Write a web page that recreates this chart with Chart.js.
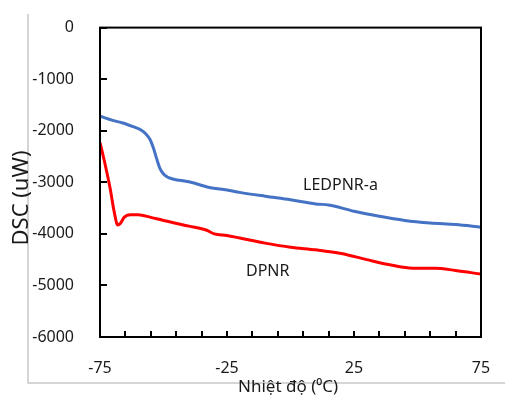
<!DOCTYPE html>
<html>
<head>
<meta charset="utf-8">
<script src="https://cdn.jsdelivr.net/npm/chart.js@4"></script>
<style>
  html, body { margin: 0; padding: 0; background: #fff; }
  #wrap { width: 505px; height: 398px; }
</style>
</head>
<body>
<div id="wrap"><canvas id="dsc" width="505" height="398"></canvas></div>
<script>
const tempBlue = [-75, -70, -66, -62, -59, -57, -55.3, -54, -52.7, -51.5, -50, -48, -46, -40, -32, -25, -20, -10, 0, 10, 15, 25, 35, 45, 55, 65, 75];
const dscBlue  = [-1720, -1800, -1850, -1920, -1980, -2060, -2170, -2330, -2540, -2720, -2840, -2910, -2940, -2990, -3100, -3150, -3195, -3270, -3340, -3420, -3440, -3560, -3660, -3740, -3790, -3820, -3870];

const tempRed = [-75, -73, -71, -69.5, -68, -67, -65.5, -63, -60, -55, -50, -40, -33, -30, -25, -20, -10, 0, 10, 20, 30, 40, 48, 57, 65, 75];
const dscRed  = [-2230, -2650, -3120, -3550, -3830, -3800, -3680, -3630, -3630, -3680, -3740, -3850, -3930, -4000, -4030, -4080, -4180, -4260, -4310, -4380, -4500, -4610, -4665, -4665, -4710, -4780];

const seriesNames = ["LEDPNR-a", "DPNR"];
const xTickStep = 10, xLabelStep = 50;
const yTickStep = 1000;

const FONT = "'Noto Sans', 'Open Sans', sans-serif";

const toPoints = (xs, ys) => xs.map((x, i) => ({ x: x, y: ys[i] }));

// frame, inner ticks, titles, labels ..............................
const decor = {
	id: "decor",
	beforeDraw(chart)
	{
		let ctx = chart.ctx;
		ctx.save();
		ctx.strokeStyle = "#c8c8c8";
		ctx.lineWidth = 1.5;
		ctx.beginPath();
		ctx.moveTo(28, 14);
		ctx.lineTo(28, 383);
		ctx.lineTo(505, 383);
		ctx.stroke();
		ctx.restore();
	},
	afterDraw(chart)
	{
		let ctx = chart.ctx;
		let a = chart.chartArea;
		let xs = chart.scales.x, ys = chart.scales.y;
		ctx.save();
		ctx.strokeStyle = "#000";
		ctx.lineWidth = 2;
		ctx.strokeRect(a.left, a.top, a.right - a.left, a.bottom - a.top);

		ctx.beginPath();
		for (let v = -6000; v <= 0; v += yTickStep)
		{
			let py = Math.round(ys.getPixelForValue(v));
			ctx.moveTo(a.left, py);
			ctx.lineTo(a.left + 7, py);
		}
		for (let v = -75; v <= 75; v += xTickStep)
		{
			let px = Math.round(xs.getPixelForValue(v));
			ctx.moveTo(px, a.bottom);
			ctx.lineTo(px, a.bottom - 6);
		}
		ctx.stroke();

		ctx.fillStyle = "#1a1a1a";
		// axis titles
		ctx.font = "17px " + FONT;
		ctx.textAlign = "center";
		ctx.textBaseline = "middle";
		ctx.fillText("Nhi\u1EC7t \u0111\u1ED9 (\u2070C)", 288, 387);

		ctx.save();
		ctx.translate(22, 198);
		ctx.rotate(-Math.PI / 2);
		ctx.font = "22px " + FONT;
		ctx.fillText("DSC (uW)", 0, 0);
		ctx.restore();

		// series labels
		ctx.font = "16px " + FONT;
		ctx.textAlign = "left";
		ctx.fillText(seriesNames[0], 303, 185);
		ctx.fillText(seriesNames[1], 246, 271);
		ctx.restore();
	}
};

new Chart(document.getElementById("dsc"),
{
	type: "line",
	data:
	{
		datasets:
		[
			{
				label: seriesNames[0],
				data: toPoints(tempBlue, dscBlue),
				borderColor: "#4472c4",
				borderWidth: 3,
				pointRadius: 0,
				cubicInterpolationMode: "monotone"
			},
			{
				label: seriesNames[1],
				data: toPoints(tempRed, dscRed),
				borderColor: "#ff0000",
				borderWidth: 3,
				pointRadius: 0,
				cubicInterpolationMode: "monotone"
			}
		]
	},
	options:
	{
		responsive: false,
		animation: false,
		layout: { padding: { left: 0, right: 24, top: 24, bottom: 0 } },
		plugins:
		{
			legend: { display: false },
			tooltip: { enabled: false }
		},
		scales:
		{
			x:
			{
				type: "linear",
				min: -75,
				max: 75,
				grid: { display: false },
				border: { display: false },
				afterBuildTicks: (s) =>
				{
					let t = [];
					for (let v = -75; v <= 75; v += xTickStep) t.push({ value: v });
					s.ticks = t;
				},
				afterFit: (s) => { s.height = 61; },
				ticks:
				{
					autoSkip: false,
					maxRotation: 0,
					padding: 14,
					color: "#1a1a1a",
					font: { family: FONT, size: 16 },
					callback: (v) => ((v + 75) % xLabelStep === 0) ? String(v) : ""
				}
			},
			y:
			{
				min: -6000,
				max: 0,
				grid: { display: false },
				border: { display: false },
				afterFit: (s) => { s.width = 100; },
				ticks:
				{
					stepSize: yTickStep,
					padding: 18,
					color: "#1a1a1a",
					font: { family: FONT, size: 16 },
					callback: (v) => String(v)
				}
			}
		}
	},
	plugins: [decor]
});
</script>
</body>
</html>
